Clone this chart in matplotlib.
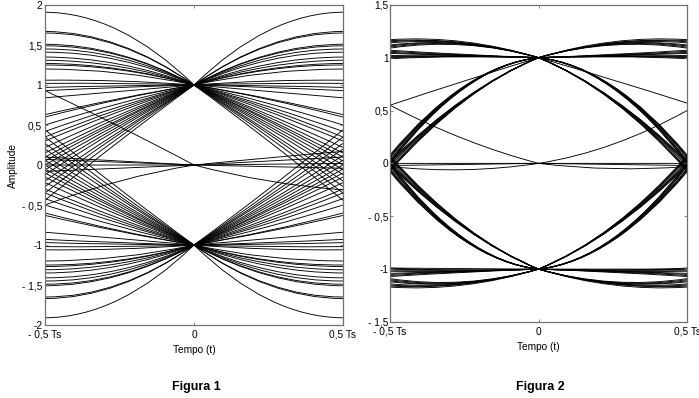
"""
Diagramas de olho (Figura 1 e Figura 2)
Cada traco e desenhado do instante 0 ate a borda (+-0,5 Ts) como curva de Bezier
"""

import matplotlib

matplotlib.use("Agg")
import matplotlib.pyplot as plt
from matplotlib.patches import PathPatch
from matplotlib.path import Path

plt.rcParams["font.family"] = ["Liberation Sans", "DejaVu Sans"]

# ---- Figura 1 ----
# meios-tracos que saem de +1 em t=0 e vao ate t=-0,5 Ts
# (valor na borda, valor em -0,25 Ts); espelhados para a direita e para -1
F1_EDGE = [1.91, 1.67, 1.65, 1.51, 1.49, 1.45, 1.41, 1.35, 1.31, 1.27, 1.25, 1.20,
           1.06, 1.02, 0.97, 0.93, 0.84, 0.63, 0.60, 0.50, 0.42, 0.35, 0.30, 0.22,
           0.15, 0.10, 0.05, 0.00, -0.06, -0.12, -0.20, -0.27, -0.35, -0.44]
F1_MID = [1.68, 1.50, 1.49, 1.38, 1.37, 1.34, 1.31, 1.26, 1.23, 1.20, 1.19, 1.15,
          1.05, 1.02, 0.99, 0.97, 0.92, 0.83, 0.82, 0.77, 0.73, 0.70, 0.67, 0.63,
          0.60, 0.57, 0.55, 0.52, 0.49, 0.46, 0.42, 0.39, 0.35, 0.30]

# meios-tracos que saem de 0 em t=0
F1_ZERO_LEFT_EDGE = [0.93, 0.10, 0.07, 0.00, -0.08, -0.50]
F1_ZERO_LEFT_MID = [0.48, 0.05, 0.035, 0.00, -0.04, -0.20]
F1_ZERO_RIGHT_EDGE = [0.17, 0.10, 0.02, -0.04, -0.31]
F1_ZERO_RIGHT_MID = [0.09, 0.05, 0.01, -0.02, -0.20]

# ---- Figura 2 ----
# meios-tracos de +1 ate -0,5 Ts (espelhados como na Figura 1)
F2_EDGE = [0.00, 0.01, 0.02, 0.03, 0.05, 0.06, 0.07, 0.08,
           -0.07, -0.06, -0.05, -0.03, -0.01, 0.00, 0.01, 0.02,
           1.09, 1.10, 1.11, 1.12, 1.14, 1.15, 1.16, 1.17,
           0.99, 1.00, 1.01, 1.02, 1.04, 1.05, 1.06, 1.07]
F2_MID = [0.71, 0.715, 0.72, 0.72, 0.72, 0.725, 0.73, 0.73,
          0.59, 0.595, 0.60, 0.60, 0.60, 0.605, 0.61, 0.61,
          1.12, 1.125, 1.13, 1.13, 1.135, 1.14, 1.14, 1.15,
          1.01, 1.01, 1.01, 1.02, 1.02, 1.02, 1.025, 1.03]

# tracos avulsos: (valor em t=0, lado, valor na borda, valor no meio)
F2_EXTRA_CENTER = [1, 1, 0, 0, 0, 0, 0, 0, 0, 0, -1, -1]
F2_EXTRA_SIDE = [-1, 1, -1, 1, -1, 1, -1, 1, -1, 1, -1, 1]
F2_EXTRA_EDGE = [0.55, 0.57, 0.55, 0.50, 0.00, 0.00, -0.02, -0.03, -0.03, -0.02, -0.99, -1.00]
F2_EXTRA_MID = [0.78, 0.79, 0.23, 0.18, 0.00, 0.00, -0.01, -0.05, -0.06, -0.01, -0.995, -1.0]

X_TICKS = [-0.5, 0, 0.5]
X_LABELS = ["- 0,5 Ts", "0", "0,5 Ts"]
Y1_TICKS = [-2, -1.5, -1, -0.5, 0, 0.5, 1, 1.5, 2]
Y1_LABELS = ["-2", "- 1,5", "-1", "- 0,5", "0", "0,5", "1", "1,5", "2"]
Y2_TICKS = [-1.5, -1, -0.5, 0, 0.5, 1, 1.5]
Y2_LABELS = ["- 1,5", "-1", "- 0,5", "0", "0,5", "1", "1,5"]

FRAME = "#707070"
FS = 7.3


def half_trace(ax, y0, side, edge, mid):
    """Curva quadratica de t=0 ate a borda passando pelo valor no meio"""
    xe = 0.5 * side
    ctrl = 2 * mid - 0.5 * (y0 + edge)
    path = Path([(0, y0), (xe / 2, ctrl), (xe, edge)],
                [Path.MOVETO, Path.CURVE3, Path.CURVE3])
    ax.add_patch(PathPatch(path, fill=False, lw=0.65, edgecolor="black"))


def mirrored(ax, edges, mids):
    for sign in (1, -1):
        for side in (-1, 1):
            for e, m in zip(edges, mids):
                half_trace(ax, sign, side, sign * e, sign * m)


def style(ax, ylim, yticks, ylabels, ypad):
    ax.set_xlim(-0.5, 0.5)
    ax.set_ylim(*ylim)
    ax.set_xticks(X_TICKS, X_LABELS)
    ax.set_yticks(yticks, ylabels)
    ax.tick_params(axis="both", direction="in", length=2.5, width=0.6, color=FRAME,
                   top=True, right=True, labelsize=FS)
    ax.tick_params(axis="x", pad=3.5)
    ax.tick_params(axis="y", pad=ypad)
    for sp in ax.spines.values():
        sp.set_color(FRAME)
        sp.set_linewidth(0.9)
    ax.set_xlabel("Tempo (t)", fontsize=FS, labelpad=4)


fig = plt.figure(figsize=(6.99, 3.98), dpi=100)
ax1 = fig.add_axes([0.0644, 0.1834, 0.4263, 0.804])
ax2 = fig.add_axes([0.558, 0.191, 0.4249, 0.797])

# Figura 1
mirrored(ax1, F1_EDGE, F1_MID)
for e, m in zip(F1_ZERO_LEFT_EDGE, F1_ZERO_LEFT_MID):
    half_trace(ax1, 0, -1, e, m)
for e, m in zip(F1_ZERO_RIGHT_EDGE, F1_ZERO_RIGHT_MID):
    half_trace(ax1, 0, 1, e, m)
style(ax1, (-2, 2), Y1_TICKS, Y1_LABELS, 2)
ax1.set_ylabel("Amplitude", fontsize=FS, labelpad=3)

# Figura 2
mirrored(ax2, F2_EDGE, F2_MID)
for c, s, e, m in zip(F2_EXTRA_CENTER, F2_EXTRA_SIDE, F2_EXTRA_EDGE, F2_EXTRA_MID):
    half_trace(ax2, c, s, e, m)
style(ax2, (-1.5, 1.5), Y2_TICKS, Y2_LABELS, 1)

fig.text(196 / 699, 1 - 387 / 398, "Figura 1", ha="center", va="center",
         fontsize=9, fontweight="bold")
fig.text(540 / 699, 1 - 387 / 398, "Figura 2", ha="center", va="center",
         fontsize=9, fontweight="bold")

fig.savefig("out.png", dpi=100)
plt.close(fig)
